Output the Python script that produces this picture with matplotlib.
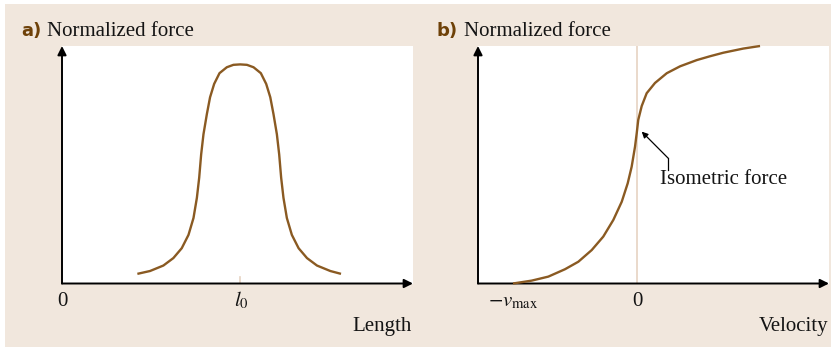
import matplotlib.pyplot as plt
from matplotlib.patches import Rectangle

plt.rcParams['mathtext.fontset'] = 'stix'

# panel a: force-length (length in units of l0)
length = [0.423, 0.494, 0.569, 0.625, 0.672, 0.710, 0.738, 0.757, 0.770, 0.781, 0.794,
          0.813, 0.831, 0.854, 0.884, 0.925, 0.962, 1.0,
          1.038, 1.075, 1.116, 1.146, 1.169, 1.187, 1.206, 1.219, 1.230, 1.243,
          1.262, 1.290, 1.328, 1.375, 1.431, 1.506, 1.566]
force_a = [0.044, 0.057, 0.082, 0.116, 0.161, 0.222, 0.299, 0.391, 0.483, 0.589, 0.681,
           0.773, 0.850, 0.911, 0.960, 0.987, 0.998, 1.0,
           0.998, 0.987, 0.960, 0.911, 0.850, 0.773, 0.681, 0.589, 0.483, 0.391,
           0.299, 0.222, 0.161, 0.116, 0.082, 0.057, 0.044]

# panel b: force-velocity (velocity in units of vmax)
velocity = [-1.0, -0.849, -0.715, -0.581, -0.473, -0.365, -0.272, -0.191, -0.123,
            -0.075, -0.043, -0.016, -0.002, 0.010, 0.038, 0.078, 0.145, 0.240,
            0.347, 0.482, 0.589, 0.696, 0.857, 0.992]
force_b = [0.0, 0.018, 0.043, 0.089, 0.136, 0.209, 0.293, 0.397, 0.511,
           0.626, 0.730, 0.855, 0.941, 1.022, 1.109, 1.189, 1.253, 1.314,
           1.357, 1.396, 1.420, 1.442, 1.468, 1.484]

brown = '#8a5a22'
label_brown = '#6e4108'
beige = '#f1e7dd'
light = '#e6d3c2'
ink = '#141414'

fig = plt.figure(figsize=(8.31, 3.47), dpi=100, facecolor='white')
fig.patches.append(Rectangle((5 / 831, 0), 1, 1 - 4 / 347, transform=fig.transFigure,
                             facecolor=beige, edgecolor='none', zorder=-10))

def fx(px):
    return px / 831

def fy(py):
    return 1 - py / 347

axa = fig.add_axes([fx(62), fy(283.5), 351 / 831, 237.5 / 347])
axb = fig.add_axes([fx(478), fy(283.5), 351 / 831, 237.5 / 347])

for ax in (axa, axb):
    ax.set_facecolor('white')
    for s in ax.spines.values():
        s.set_visible(False)
    ax.set_xticks([])
    ax.set_yticks([])
    ax.annotate('', xy=(0, 1), xytext=(0, 0), xycoords='axes fraction',
                arrowprops=dict(arrowstyle='-|>', color='black', lw=1.4,
                                mutation_scale=13, shrinkA=0, shrinkB=0))
    ax.annotate('', xy=(1, 0), xytext=(0, 0), xycoords='axes fraction',
                arrowprops=dict(arrowstyle='-|>', color='black', lw=1.4,
                                mutation_scale=13, shrinkA=0, shrinkB=0))

axa.plot(length, force_a, color=brown, lw=1.7, solid_joinstyle='round', solid_capstyle='butt')
axa.set_xlim(0, 1.97)
axa.set_ylim(0, 1.084)
axa.plot([1, 1], [0.0, 0.03], color=light, lw=1.2)

axb.plot(velocity, force_b, color=brown, lw=1.7, zorder=3, clip_on=False,
         solid_joinstyle='round', solid_capstyle='butt')
axb.set_xlim(-1.282, 1.548)
axb.set_ylim(0, 1.484)
axb.axvline(0, color=light, lw=1.2, zorder=1)

# annotation
axb.plot([0.25, 0.25], [0.709, 0.784], color='black', lw=0.9)
axb.annotate('', xy=(0.038, 0.949), xytext=(0.25, 0.784),
             arrowprops=dict(arrowstyle='-|>', color='black', lw=0.9,
                             mutation_scale=9, shrinkA=0, shrinkB=0))
axb.text(0.185, 0.62, 'Isometric force', family='Liberation Serif', fontsize=15,
         ha='left', va='baseline', color=ink)

serif = dict(family='Liberation Serif', fontsize=15, color=ink)
bold = dict(family='DejaVu Sans', fontsize=13, fontweight='bold', color=label_brown)

fig.text(fx(21), fy(36), 'a)', ha='left', va='baseline', **bold)
fig.text(fx(47), fy(36), 'Normalized force', ha='left', va='baseline', **serif)
fig.text(fx(437), fy(36), 'b)', ha='left', va='baseline', **bold)
fig.text(fx(464), fy(36), 'Normalized force', ha='left', va='baseline', **serif)

fig.text(fx(62), fy(306), '0', ha='center', va='baseline', **serif)
fig.text(fx(241), fy(306), '$l_0$', ha='center', va='baseline', fontsize=15, color=ink)
fig.text(fx(412), fy(331), 'Length', ha='right', va='baseline', **serif)

fig.text(fx(513), fy(306), r'$-v_{\rm max}$', ha='center', va='baseline', fontsize=15, color=ink)
fig.text(fx(637), fy(306), '0', ha='center', va='baseline', **serif)
fig.text(fx(828), fy(331), 'Velocity', ha='right', va='baseline', **serif)

fig.savefig('out.png', dpi=100, facecolor=fig.get_facecolor())
